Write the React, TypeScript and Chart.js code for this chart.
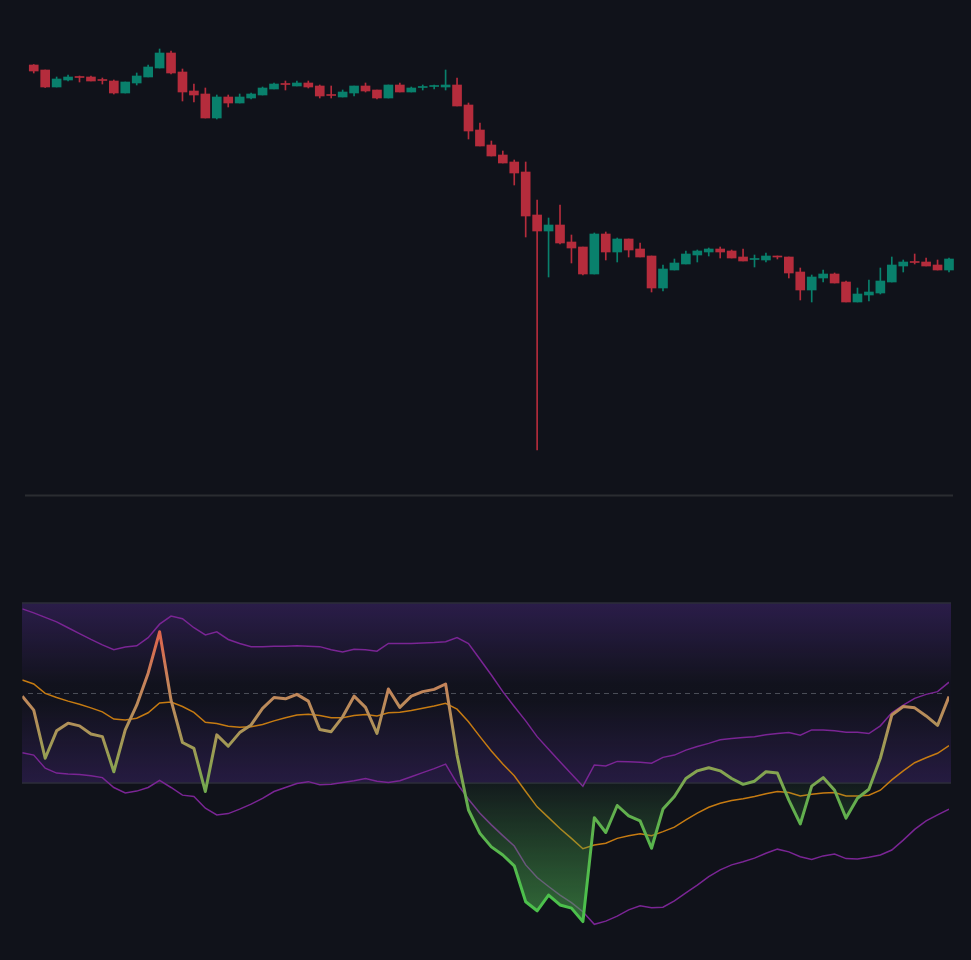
import React, { useEffect, useRef } from 'react';
import { Chart, registerables } from 'chart.js';
Chart.register(...registerables);

const BG = '#10121a';
const UP_COLOR = '#09806c';
const DOWN_COLOR = '#b52c3c';

// ---- price panel (81 candles at x = 1..81) ----
const candleOpen = [
  107.0, 106.0, 102.6, 104.0, 104.6, 104.6, 104.0, 103.8, 101.4, 103.4,
  104.6, 106.4, 109.4, 105.6, 101.8, 101.2, 96.4, 100.6, 99.4, 100.4,
  101.0, 102.2, 103.2, 102.8, 103.4, 102.8, 101.0, 100.6, 101.4, 102.8,
  102.0, 100.4, 103.0, 101.6, 102.5, 102.7, 102.6, 103.0, 99.0, 94.0,
  91.0, 89.0, 87.6, 85.6, 77.0, 73.8, 75.0, 71.6, 70.6, 65.2,
  73.2, 69.6, 72.2, 70.2, 68.8, 62.4, 66.0, 67.2, 69.0, 69.6,
  70.2, 69.8, 68.6, 68.1, 68.0, 68.8, 68.6, 65.6, 62.0, 64.4,
  65.2, 63.6, 59.6, 61.0, 61.4, 63.6, 66.8, 67.6, 67.6, 67.0, 66.0,
];
const candleHigh = [
  107.1, 106.0, 104.6, 105.0, 104.8, 104.8, 104.4, 104.0, 103.6, 105.4,
  107.0, 110.2, 109.8, 106.2, 103.2, 102.4, 101.0, 101.0, 101.2, 101.4,
  102.6, 103.4, 103.8, 103.8, 103.8, 103.0, 102.8, 102.0, 102.8, 103.4,
  102.0, 103.0, 103.4, 102.6, 103.0, 103.0, 106.0, 104.4, 99.4, 95.4,
  91.8, 89.8, 88.0, 87.6, 80.0, 76.4, 79.0, 73.0, 70.6, 73.4,
  73.6, 72.4, 72.2, 71.4, 68.8, 67.0, 68.2, 69.8, 70.0, 70.4,
  70.6, 70.0, 70.2, 69.0, 69.4, 68.8, 68.6, 66.4, 65.0, 66.0,
  65.4, 63.8, 62.4, 64.0, 66.4, 68.6, 68.0, 69.2, 68.4, 68.0, 68.4,
];
const candleLow = [
  105.4, 102.5, 102.6, 103.8, 103.6, 103.8, 103.2, 101.2, 101.4, 103.0,
  104.6, 106.4, 105.2, 99.8, 99.6, 96.4, 96.2, 98.6, 99.4, 100.2,
  101.0, 102.2, 102.0, 102.8, 102.4, 100.4, 100.4, 100.6, 100.8, 101.6,
  100.2, 100.4, 101.6, 101.6, 102.0, 102.2, 102.0, 98.8, 92.2, 90.8,
  88.8, 87.4, 83.0, 72.6, 30.0, 64.6, 71.2, 67.4, 65.0, 65.2,
  68.0, 67.6, 68.6, 68.6, 61.6, 61.8, 66.0, 67.2, 67.6, 68.8,
  68.4, 68.4, 67.8, 66.6, 67.6, 68.2, 64.4, 60.0, 59.6, 63.6,
  63.4, 59.6, 59.6, 59.8, 61.2, 63.6, 65.6, 67.2, 66.8, 66.0, 65.6,
];
const candleClose = [
  105.8, 102.6, 104.2, 104.6, 104.5, 103.8, 103.9, 101.4, 103.6, 104.8,
  106.6, 109.4, 105.4, 101.6, 101.0, 96.4, 100.6, 99.4, 100.6, 101.2,
  102.4, 103.2, 103.1, 103.4, 102.6, 100.8, 100.9, 101.6, 102.8, 101.8,
  100.4, 103.0, 101.6, 102.4, 102.6, 102.8, 103.0, 98.8, 93.8, 90.8,
  88.8, 87.4, 85.4, 76.8, 73.8, 75.0, 71.4, 70.4, 65.2, 73.2,
  69.6, 72.2, 70.0, 68.6, 62.4, 66.2, 67.4, 69.2, 69.8, 70.2,
  69.6, 68.4, 67.8, 68.2, 68.8, 68.6, 65.4, 62.0, 64.6, 65.2,
  63.4, 59.6, 61.2, 61.6, 63.8, 67.0, 67.6, 67.5, 66.8, 66.0, 68.2,
];

// ---- oscillator panel (82 points at x = 0..81) ----
const oscMain = [
  -0.7, -3.8, -14.5, -8.4, -6.7, -7.3, -9.1, -9.7, -17.5, -8.2,
  -2.7, 4.4, 13.6, -1.6, -11.0, -12.3, -21.9, -9.3, -11.8, -8.8,
  -7.1, -3.4, -1.0, -1.3, -0.3, -1.8, -8.1, -8.6, -5.3, -0.7,
  -3.2, -9.0, 0.9, -3.2, -0.7, 0.3, 0.8, 2.0, -13.8, -26.0,
  -31.2, -34.2, -36.0, -38.4, -46.4, -48.4, -44.9, -47.1, -47.8, -50.8,
  -27.7, -31.0, -25.0, -27.3, -28.4, -34.5, -25.8, -23.0, -19.0, -17.3,
  -16.6, -17.3, -19.0, -20.3, -19.6, -17.5, -17.8, -23.8, -29.1, -20.7,
  -18.8, -21.6, -27.8, -23.4, -21.4, -14.5, -4.9, -3.0, -3.3, -5.1,
  -7.2, -0.8,
];
const oscSignal = [
  2.9, 2.0, -0.1, -1.0, -1.8, -2.5, -3.3, -4.2, -5.8, -6.0,
  -5.6, -4.4, -2.2, -2.0, -3.0, -4.3, -6.5, -6.8, -7.4, -7.6,
  -7.5, -7.0, -6.2, -5.5, -4.9, -4.7, -5.0, -5.5, -5.5, -5.0,
  -4.8, -5.1, -4.4, -4.3, -3.9, -3.4, -2.9, -2.3, -3.6, -6.4,
  -9.7, -12.9, -15.8, -18.4, -21.9, -25.3, -27.7, -30.1, -32.3, -34.6,
  -33.8, -33.4, -32.3, -31.7, -31.3, -31.7, -30.8, -29.8, -28.2, -26.7,
  -25.4, -24.5, -23.9, -23.5, -23.0, -22.4, -21.9, -22.1, -22.9, -22.5,
  -22.2, -22.1, -22.9, -22.9, -22.7, -21.6, -19.3, -17.3, -15.5, -14.4,
  -13.4, -11.7,
];
const bandUpper = [
  18.7, 17.8, 16.8, 15.8, 14.5, 13.2, 11.9, 10.7, 9.6, 10.2,
  10.5, 12.3, 15.3, 17.1, 16.5, 14.5, 12.9, 13.6, 11.9, 11.0,
  10.3, 10.3, 10.4, 10.4, 10.5, 10.4, 10.3, 9.6, 9.1, 9.7,
  9.6, 9.3, 11.0, 11.0, 11.0, 11.1, 11.2, 11.4, 12.3, 11.0,
  7.5, 4.0, 0.3, -3.0, -6.2, -9.7, -12.5, -15.3, -18.0, -20.7,
  -16.0, -16.2, -15.2, -15.3, -15.4, -15.6, -14.3, -13.8, -12.7, -11.9,
  -11.2, -10.4, -10.1, -9.9, -9.7, -9.3, -9.0, -8.8, -9.4, -8.2,
  -8.2, -8.4, -8.7, -8.7, -9.0, -7.3, -4.4, -2.7, -1.2, -0.3,
  0.3, 2.4,
];
const bandLower = [
  -13.3, -13.8, -16.7, -17.8, -18.0, -18.1, -18.4, -18.8, -21.0, -22.2,
  -21.8, -21.0, -19.4, -21.0, -22.7, -23.0, -25.6, -27.1, -26.8, -25.8,
  -24.7, -23.4, -21.9, -21.0, -20.1, -19.7, -20.4, -20.3, -19.9, -19.5,
  -19.0, -19.6, -19.9, -19.5, -18.6, -17.7, -16.8, -15.8, -20.1, -23.6,
  -26.7, -29.3, -31.7, -34.0, -38.2, -41.0, -43.0, -44.9, -46.6, -48.6,
  -51.4, -50.7, -49.6, -48.2, -47.3, -47.7, -47.6, -46.2, -44.4, -42.7,
  -40.8, -39.3, -38.2, -37.5, -36.7, -35.6, -34.7, -35.3, -36.4, -37.0,
  -36.2, -35.8, -36.8, -36.9, -36.5, -36.0, -34.9, -32.7, -30.3, -28.4,
  -27.1, -25.8,
];
const UPPER_LEVEL = 20;
const MID_LEVEL = 0;
const LOWER_LEVEL = -20;

const toXY = (arr: number[]) => arr.map((v, i) => ({ x: i, y: v }));

export default function App() {
  const topRef = useRef<HTMLCanvasElement>(null);
  const botRef = useRef<HTMLCanvasElement>(null);

  useEffect(() => {
    document.body.style.margin = '0';
    document.body.style.background = BG;

    const candleColors = candleOpen.map((o, i) => (candleClose[i] >= o ? UP_COLOR : DOWN_COLOR));

    const separatorPlugin = {
      id: 'separator',
      afterDraw(chart: any) {
        const c = chart.ctx;
        c.save();
        c.fillStyle = '#2a2c31';
        c.fillRect(25, 494.5, 928, 2);
        c.restore();
      },
    };

    const top = new Chart(topRef.current!, {
      type: 'bar',
      data: {
        datasets: [
          {
            data: candleOpen.map((o, i) => ({ x: i + 1, y: [o, candleClose[i]] })) as any,
            backgroundColor: candleColors,
            barThickness: 9,
            minBarLength: 1,
            grouped: false,
            borderWidth: 0,
            clip: false,
          } as any,
          {
            data: candleLow.map((l, i) => ({ x: i + 1, y: [l, candleHigh[i]] })) as any,
            backgroundColor: candleColors,
            barThickness: 1,
            grouped: false,
            borderWidth: 0,
            clip: false,
          } as any,
        ],
      },
      options: {
        animation: false,
        responsive: false,
        layout: { padding: { left: 22.3, right: 22, top: 0, bottom: 0 } },
        plugins: { legend: { display: false }, tooltip: { enabled: false } },
        scales: {
          x: { type: 'linear', min: 0, max: 81, offset: false, display: false },
          y: { min: 20, max: 120, display: false },
        },
      },
      plugins: [separatorPlugin],
    });

    const bandPlugin = {
      id: 'band',
      beforeDatasetsDraw(chart: any) {
        const c = chart.ctx;
        const y = chart.scales.y;
        const yTop = y.getPixelForValue(UPPER_LEVEL);
        const yBot = y.getPixelForValue(LOWER_LEVEL);
        const yMid = y.getPixelForValue(MID_LEVEL);
        c.save();
        const g = c.createLinearGradient(0, yTop, 0, yBot);
        g.addColorStop(0, 'rgba(120,62,210,0.26)');
        g.addColorStop(0.45, 'rgba(120,62,210,0.02)');
        g.addColorStop(0.55, 'rgba(120,62,210,0.02)');
        g.addColorStop(1, 'rgba(120,62,210,0.21)');
        c.fillStyle = g;
        c.fillRect(22, yTop, 929, yBot - yTop);
        c.strokeStyle = '#2c2e3a';
        c.lineWidth = 1.5;
        c.beginPath();
        c.moveTo(22, yTop);
        c.lineTo(951, yTop);
        c.moveTo(22, yBot);
        c.lineTo(951, yBot);
        c.stroke();
        c.strokeStyle = '#4a4d57';
        c.lineWidth = 1;
        c.setLineDash([5, 4]);
        c.beginPath();
        c.moveTo(28, Math.round(yMid) + 0.5);
        c.lineTo(946, Math.round(yMid) + 0.5);
        c.stroke();
        c.restore();
      },
    };

    const lineGradient = (ctx: any) => {
      const chart = ctx.chart;
      if (!chart.chartArea) return '#b48f5a';
      const y = chart.scales.y;
      const y0 = y.getPixelForValue(20);
      const y1 = y.getPixelForValue(-52);
      const g = chart.ctx.createLinearGradient(0, y0, 0, y1);
      const stops: [number, string][] = [
        [15, '#e25f4a'],
        [3, '#c7825a'],
        [-6, '#b48f5a'],
        [-15, '#94a052'],
        [-24, '#65ad4e'],
        [-45, '#4cc04c'],
      ];
      stops.forEach(([v, col]) => {
        const off = (y.getPixelForValue(v) - y0) / (y1 - y0);
        g.addColorStop(Math.min(1, Math.max(0, off)), col);
      });
      return g;
    };

    const fillGradient = (ctx: any) => {
      const chart = ctx.chart;
      if (!chart.chartArea) return 'rgba(76,175,80,0.3)';
      const y = chart.scales.y;
      const g = chart.ctx.createLinearGradient(0, y.getPixelForValue(LOWER_LEVEL), 0, y.getPixelForValue(-51));
      g.addColorStop(0, 'rgba(76,175,80,0.06)');
      g.addColorStop(1, 'rgba(76,175,80,0.58)');
      return g;
    };

    const bot = new Chart(botRef.current!, {
      type: 'line',
      data: {
        datasets: [
          {
            data: toXY(oscMain),
            borderColor: lineGradient,
            backgroundColor: fillGradient,
            borderWidth: 3,
            borderJoinStyle: 'round',
            fill: { target: { value: LOWER_LEVEL }, above: 'rgba(0,0,0,0)' } as any,
            pointRadius: 0,
            tension: 0,
          } as any,
          {
            data: toXY(oscSignal),
            borderColor: '#c67b12',
            borderWidth: 1.5,
            pointRadius: 0,
            tension: 0,
            fill: false,
          },
          {
            data: toXY(bandUpper),
            borderColor: '#7a2594',
            borderWidth: 1.5,
            pointRadius: 0,
            tension: 0,
            fill: false,
          },
          {
            data: toXY(bandLower),
            borderColor: '#7a2594',
            borderWidth: 1.5,
            pointRadius: 0,
            tension: 0,
            fill: false,
          },
        ],
      },
      options: {
        animation: false,
        responsive: false,
        layout: { padding: { left: 22.3, right: 22, top: 13, bottom: 15 } },
        plugins: { legend: { display: false }, tooltip: { enabled: false } },
        scales: {
          x: { type: 'linear', min: 0, max: 81, display: false },
          y: { min: -56, max: 40, display: false },
        },
      },
      plugins: [bandPlugin],
    });

    return () => {
      top.destroy();
      bot.destroy();
    };
  }, []);

  return (
    <div style={{ position: 'relative', width: 971, height: 960, background: BG }}>
      <canvas ref={topRef} width={971} height={500} style={{ position: 'absolute', left: 0, top: 0 }} />
      <canvas ref={botRef} width={971} height={460} style={{ position: 'absolute', left: 0, top: 500 }} />
    </div>
  );
}
